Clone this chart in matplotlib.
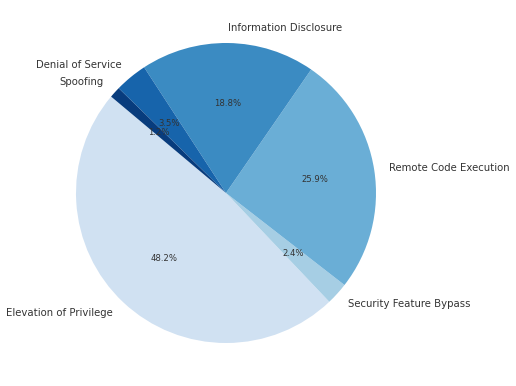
import numpy as np
import matplotlib
matplotlib.use("Agg")
import matplotlib.pyplot as plt

labels = ["Elevation of Privilege", "Security Feature Bypass", "Remote Code Execution",
          "Information Disclosure", "Denial of Service", "Spoofing"]
shares = [48.2, 2.4, 25.9, 18.8, 3.5, 1.2]

colors = plt.cm.Blues(np.linspace(0.2, 0.95, len(labels)))

W, H = 516, 386
fig = plt.figure(figsize=(W / 100, H / 100), dpi=100)
# pie centre about (226, 193) px, radius 150 px
ax = fig.add_axes([76 / W, (H - 343) / H, 300 / W, 300 / H])

wedges, texts, autotexts = ax.pie(shares, labels=labels, colors=colors, startangle=140,
                                  autopct="%1.1f%%", textprops={"color": "#333333"})
for t in texts:
    t.set_fontsize(7.3)
for t in autotexts:
    t.set_fontsize(6.1)

ax.set_xlim(-1, 1)
ax.set_ylim(-1, 1)
ax.set_aspect("equal")

fig.savefig("out.png", dpi=100)
